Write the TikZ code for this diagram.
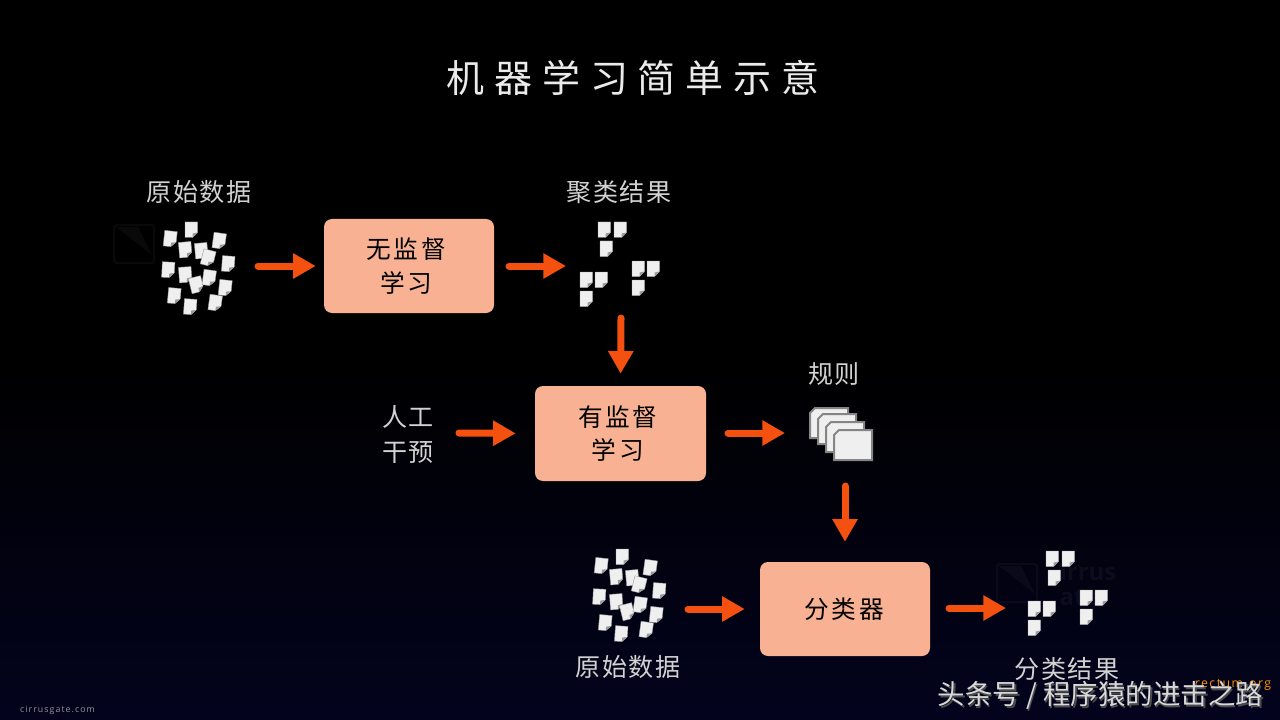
\documentclass[tikz,border=0pt]{standalone}
\usepackage{fontspec}
\usetikzlibrary{arrows.meta,calc}
\newfontfamily\cjk{Noto Sans CJK SC}
\newfontfamily\cjkwide[LetterSpace=26]{Noto Sans CJK SC}
\newfontfamily\cjklab[LetterSpace=6]{Noto Sans CJK SC}
\newfontfamily\cjkbox[LetterSpace=10]{Noto Sans CJK SC}
\newfontfamily\lat[LetterSpace=12]{Open Sans}
\newfontfamily\latb{Open Sans}
\definecolor{bgbottom}{HTML}{03031E}
\definecolor{boxfill}{HTML}{F8B192}
\definecolor{arrowc}{HTML}{F4500F}
\definecolor{labelc}{HTML}{D2D2D2}
\definecolor{docfill}{HTML}{EFEFEF}
\definecolor{docfold}{HTML}{9A9A9A}
\definecolor{cardedge}{HTML}{858585}
\tikzset{
  flowbox/.style={fill=boxfill,rounded corners=6pt,text=black,align=center,
    font=\cjkbox\fontsize{18.5}{25}\selectfont,inner sep=0pt},
  lab/.style={text=labelc,font=\cjklab\fontsize{18.8}{24}\selectfont,inner sep=0pt,align=center},
  flow/.style={draw=arrowc,line width=5.25pt,line cap=round,
    -{Triangle[length=17pt,width=18pt,fill=arrowc]}},
}
% doc icon: top-left x,y in reference pixels, rotation
\newcommand{\docu}[3]{%
  \begin{scope}[rotate around={#3:(#1+6,#2+7.5)}]
  \fill[docfill,draw=docfold,line width=0.3pt] (#1,#2) -- ++(12.5,0) -- ++(0,10.5) -- ++(-5,5) -- ++(-7.5,0) -- cycle;
  \fill[docfold] (#1+12.5,#2+10.5) -- ++(-5,5) -- ++(0,-4) -- cycle;
  \end{scope}
}
\newcommand{\cloud}[2]{%
  \begin{scope}[shift={(#1,#2)}]
  \foreach \p/\q/\r in {164/231/6,185/222/0,179/242/-5,195/243/-5,202/250/14,213/233/8,162/262/3,179/267/-4,190/277/-14,203/270/8,222/256/4,219/280/6,168/288/5,184/299/4,209/295/8}{\docu{\p-164}{\q-222}{-\r}}
  \end{scope}}
\newcommand{\triple}[2]{%
  \begin{scope}[shift={(#1,#2)}]
  \foreach \p/\q in {18/0,34/0,20/19,0/50,15/50,0/69,52/39,67/39,52/58}{\docu{\p}{\q}{0}}
  \end{scope}}
\newcommand{\card}[2]{%
  \draw[cardedge,fill=docfill,line width=1.5pt] (#1+5,#2) -- ++(33,0) -- ++(0,30) -- ++(-38,0) -- ++(0,-25) -- cycle;
}
\newcommand{\logomark}[2]{%
  \begin{scope}[shift={(#1,#2)}]
  \draw[white,opacity=0.035,line width=1.5pt,rounded corners=2pt] (0,0) rectangle (40,38);
  \fill[white,opacity=0.035] (2,2) -- (24,2) -- (38,30) -- cycle;
  \end{scope}}
\begin{document}
\begin{tikzpicture}[x=0.75pt,y=-0.75pt]
\useasboundingbox (0,0) rectangle (1280,720);
\fill[black] (0,0) rectangle (1280,360);
\shade[top color=black,bottom color=bgbottom] (0,360) rectangle (1280,720);
% faint logos
\logomark{114}{225}
\logomark{997}{564}
\node[text=white,opacity=0.045,font=\latb\bfseries\fontsize{18}{19}\selectfont,inner sep=0pt,align=left] (faint) at (1088,584) {irrus\\ate};
% title
\node[text=white!92!black,font=\cjkwide\fontsize{28.5}{32}\selectfont,inner sep=0pt] (title) at (633,78) {机器学习简单示意};
% boxes
\node[flowbox,minimum width=127.5pt,minimum height=70.5pt] (b1) at (409,266) {无监督\hspace*{4pt}\\学习\hspace*{4pt}};
\node[flowbox,minimum width=128.25pt,minimum height=71.25pt] (b2) at (620.5,433.5) {有监督\hspace*{4pt}\\学习\hspace*{4pt}};
\node[flowbox,minimum width=127.5pt,minimum height=70.5pt] (b3) at (845,609) {分类器\hspace*{1pt}};
% labels
\node[lab] (l1) at (199,192) {原始数据};
\node[lab] (l2) at (619,192) {聚类结果};
\node[lab] (l3) at (834,374) {规则};
\node[lab] (l4) at (408,417) {人工};
\node[lab] (l5) at (408,453) {干预};
\node[lab] (l6) at (628,667) {原始数据};
\node[lab] (l7) at (1067,669) {分类结果};
% document groups
\cloud{164}{222}
\cloud{595}{549}
\triple{580}{222}
\triple{1028}{551}
\card{810}{408}
\card{818}{414}
\card{826}{422}
\card{834}{430}
% free ends of the connectors
\coordinate (c1) at (258,266);
\coordinate (c2) at (509,266);
\coordinate (c3) at (621,318);
\coordinate (c4) at (459,433);
\coordinate (c5) at (728,433);
\coordinate (c6) at (845,486);
\coordinate (c7) at (688,609);
\coordinate (c8) at (949,608);
\coordinate (e8) at (1006,608);
\coordinate (e2) at (566,266);
\coordinate (e5) at (785,433);
% connectors
\draw[flow,shorten >=6pt] (c1) -- (b1.west);
\draw[flow] (c2) -- (e2);
\draw[flow,shorten >=9pt] (c3) -- (b2.north);
\draw[flow,shorten >=14.25pt] (c4) -- (b2.west);
\draw[flow] (c5) -- (e5);
\draw[flow,shorten >=15pt] (c6) -- (b3.north);
\draw[flow,shorten >=11.25pt] (c7) -- (b3.west);
\draw[flow] (c8) -- (e8);
% footer texts
\node[text=gray!85!white,font=\lat\fontsize{6.6}{9}\selectfont,inner sep=0pt] (site) at (57.5,710) {cirrusgate.com};
\node[text=orange!85!yellow,font=\lat\fontsize{9.2}{11}\selectfont,inner sep=0pt] (org) at (1233,685) {rectum.org};
\node[text=black!70,font=\cjk\fontsize{20.6}{24}\selectfont,inner sep=0pt] (wms) at (1102,697) {头条号 / 程序猿的进击之路};
\node[text=white!85!black,font=\cjk\fontsize{20.6}{24}\selectfont,inner sep=0pt] (wm) at (1100.5,695.5) {头条号 / 程序猿的进击之路};
\end{tikzpicture}
\end{document}
